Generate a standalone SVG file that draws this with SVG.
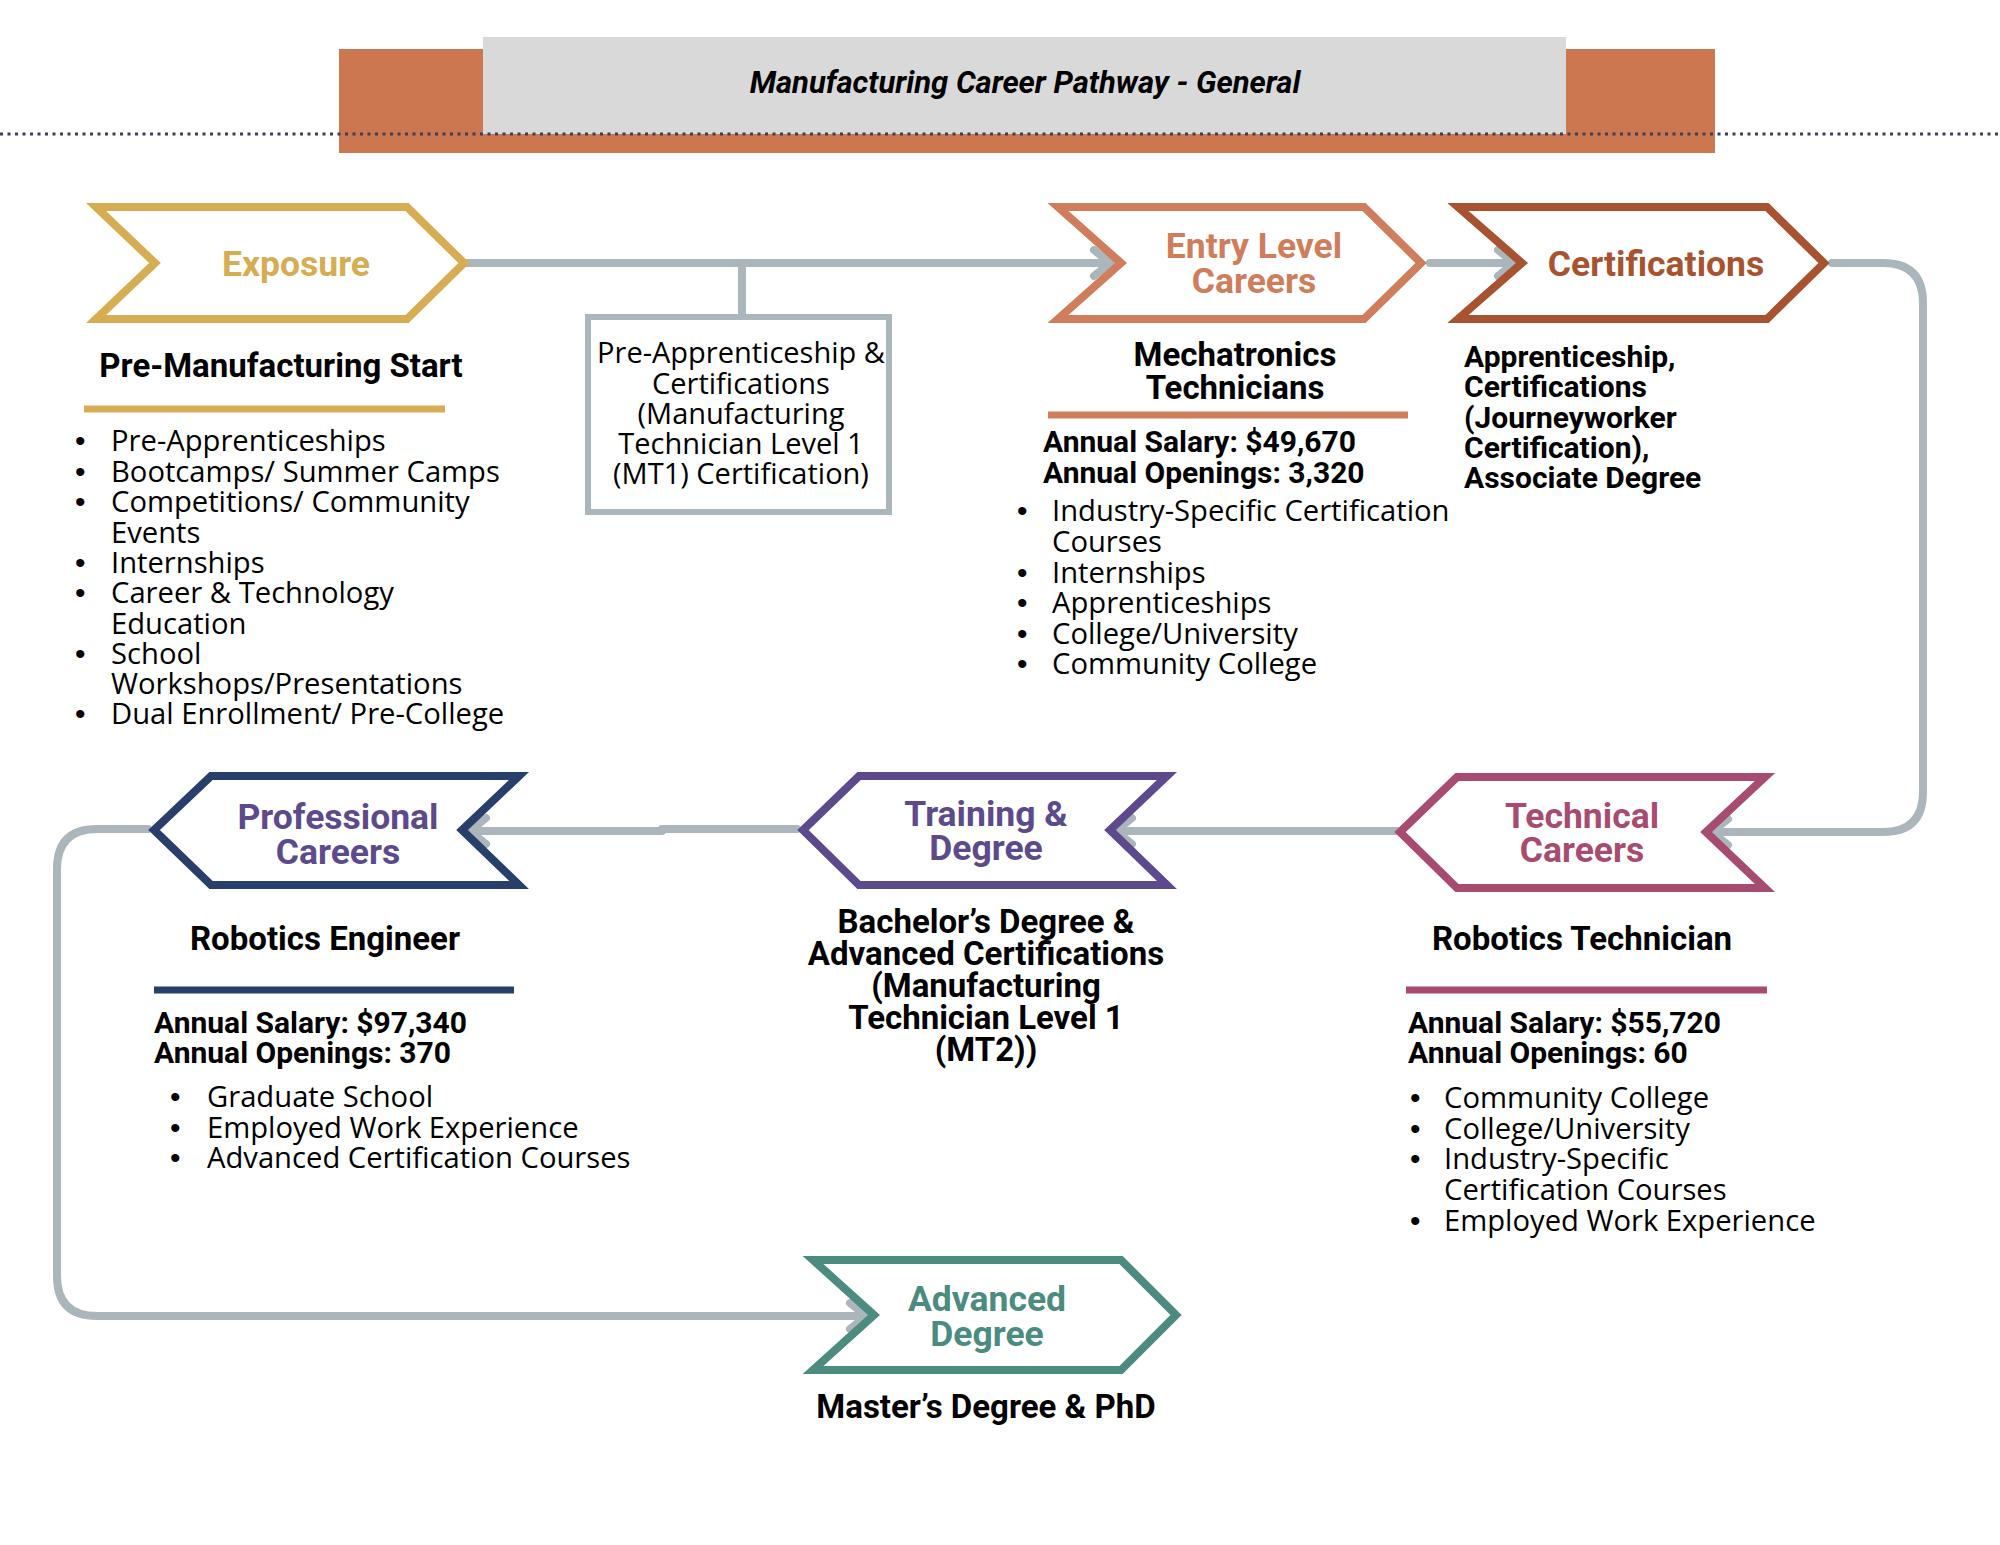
<svg xmlns="http://www.w3.org/2000/svg" width="2000" height="1545" viewBox="0 0 2000 1545">
<defs>
<style>
.bg{fill:#ffffff}
.chev{fill:#ffffff;stroke-width:8;stroke-linejoin:miter}
.lab{font-family:Roboto,"Liberation Sans",sans-serif;font-weight:700;font-size:35.5px;text-anchor:middle}
.head{font-family:Roboto,"Liberation Sans",sans-serif;font-weight:700;font-size:30px;fill:#000}
.big{font-size:33px}
.mid{text-anchor:middle}
.body{font-family:"Open Sans","Liberation Sans",sans-serif;font-size:29.2px;fill:#000}
.bul{font-family:"Liberation Sans",Arial,sans-serif;font-size:30px;fill:#000}
.conn{fill:none;stroke:#AAB5BC;stroke-width:8;stroke-linecap:round;stroke-linejoin:round}
.rule{stroke-width:7}
</style>
<marker id="arr" markerUnits="userSpaceOnUse" markerWidth="40" markerHeight="40" viewBox="-30 -20 40 40" refX="0" refY="0" orient="auto">
<path d="M-18,-13 L-2,0 L-18,13" fill="none" stroke="#AAB5BC" stroke-width="8" stroke-linecap="round" stroke-linejoin="round"/>
</marker>
</defs>
<rect class="bg" x="0" y="0" width="2000" height="1545"/>

<g id="title">
<rect x="339" y="49" width="1376" height="104" fill="#CD7751"/>
<rect x="483" y="37" width="1083" height="97" fill="#D9D9D9"/>
<line x1="0" y1="134" x2="2000" y2="134" stroke="#3B4058" stroke-width="3" stroke-dasharray="3 4.5"/>
<text x="1025" y="93" font-family="Roboto,'Liberation Sans',sans-serif" font-weight="700" font-style="italic" font-size="31" text-anchor="middle" fill="#000">Manufacturing Career Pathway - General</text>
</g>

<g id="connectors">
<path class="conn" d="M466 263 H1112" marker-end="url(#arr)"/>
<path class="conn" d="M742 263 V314"/>
<path class="conn" d="M1430 263 H1516" marker-end="url(#arr)"/>
<path class="conn" d="M1832 263 H1883 Q1923 263 1923 303 V792 Q1923 832 1883 832 H1710" marker-end="url(#arr)"/>
<path class="conn" d="M1397 831 H1114" marker-end="url(#arr)"/>
<path class="conn" d="M797 829 H662 V831 H468" marker-end="url(#arr)"/>
<path class="conn" d="M148 829 H97 Q57 829 57 869 V1276 Q57 1316 97 1316 H868" marker-end="url(#arr)"/>
</g>

<g id="exposure">
<polygon class="chev" stroke="#D6AD52" points="96,207 407,207 464,263 407,319 96,319 155,263"/>
<text class="lab" x="296" y="276" fill="#D6AD52">Exposure</text>
<text class="head big mid" x="281" y="377">Pre-Manufacturing Start</text>
<line class="rule" x1="84" y1="409" x2="445" y2="409" stroke="#D6AD52"/>
<text class="bul" x="75" y="451">•</text><text class="bul" x="75" y="482">•</text><text class="bul" x="75" y="512">•</text>
<text class="bul" x="75" y="573">•</text><text class="bul" x="75" y="603">•</text><text class="bul" x="75" y="664">•</text>
<text class="bul" x="75" y="724">•</text>
<g class="body">
<text x="111" y="451">Pre-Apprenticeships</text>
<text x="111" y="482">Bootcamps/ Summer Camps</text>
<text x="111" y="512">Competitions/ Community</text>
<text x="111" y="543">Events</text>
<text x="111" y="573">Internships</text>
<text x="111" y="603">Career &amp; Technology</text>
<text x="111" y="634">Education</text>
<text x="111" y="664">School</text>
<text x="111" y="694">Workshops/Presentations</text>
<text x="111" y="724">Dual Enrollment/ Pre-College</text>
</g>
</g>

<g id="pre-apprenticeship">
<rect x="588" y="317" width="301" height="195" fill="#fff" stroke="#AAB5BC" stroke-width="6"/>
<g class="body" text-anchor="middle" style="font-size:29px">
<text x="741" y="363">Pre-Apprenticeship &amp;</text>
<text x="741" y="394">Certifications</text>
<text x="741" y="424">(Manufacturing</text>
<text x="741" y="454">Technician Level 1</text>
<text x="741" y="484">(MT1) Certification)</text>
</g>
</g>

<g id="entry-level">
<polygon class="chev" stroke="#CF7D5B" points="1058,207 1364,207 1421,263 1364,319 1058,319 1121,263"/>
<text class="lab" x="1254" y="258" fill="#CF7D5B">Entry Level</text>
<text class="lab" x="1254" y="293" fill="#CF7D5B">Careers</text>
<text class="head big mid" x="1235" y="366">Mechatronics</text>
<text class="head big mid" x="1235" y="399">Technicians</text>
<line class="rule" x1="1048" y1="415" x2="1408" y2="415" stroke="#CF7D5B"/>
<text class="head" x="1043" y="452">Annual Salary: $49,670</text>
<text class="head" x="1043" y="483">Annual Openings: 3,320</text>
<text class="bul" x="1017" y="521">•</text><text class="bul" x="1017" y="583">•</text><text class="bul" x="1017" y="613">•</text>
<text class="bul" x="1017" y="644">•</text><text class="bul" x="1017" y="674">•</text>
<g class="body">
<text x="1052" y="521">Industry-Specific Certification</text>
<text x="1052" y="552">Courses</text>
<text x="1052" y="583">Internships</text>
<text x="1052" y="613">Apprenticeships</text>
<text x="1052" y="644">College/University</text>
<text x="1052" y="674">Community College</text>
</g>
</g>

<g id="certifications">
<polygon class="chev" stroke="#A8532F" points="1458,207 1767,207 1824,263 1767,319 1458,319 1522,263"/>
<text class="lab" x="1656" y="276" fill="#A8532F">Certifications</text>
<g class="head">
<text x="1464" y="367">Apprenticeship,</text>
<text x="1464" y="397">Certifications</text>
<text x="1464" y="428">(Journeyworker</text>
<text x="1464" y="458">Certification),</text>
<text x="1464" y="488">Associate Degree</text>
</g>
</g>

<g id="technical-careers">
<polygon class="chev" stroke="#A84B70" points="1765,777 1457,777 1400,832 1457,888 1765,888 1706,832"/>
<text class="lab" x="1582" y="828" fill="#A84B70">Technical</text>
<text class="lab" x="1582" y="862" fill="#A84B70">Careers</text>
<text class="head big mid" x="1582" y="950">Robotics Technician</text>
<line class="rule" x1="1406" y1="990" x2="1767" y2="990" stroke="#A84B70"/>
<text class="head" x="1408" y="1033">Annual Salary: $55,720</text>
<text class="head" x="1408" y="1063">Annual Openings: 60</text>
<text class="bul" x="1410" y="1108">•</text><text class="bul" x="1410" y="1139">•</text><text class="bul" x="1410" y="1169">•</text>
<text class="bul" x="1410" y="1231">•</text>
<g class="body">
<text x="1444" y="1108">Community College</text>
<text x="1444" y="1139">College/University</text>
<text x="1444" y="1169">Industry-Specific</text>
<text x="1444" y="1200">Certification Courses</text>
<text x="1444" y="1231">Employed Work Experience</text>
</g>
</g>

<g id="training-degree">
<polygon class="chev" stroke="#5C4A8C" points="1167,776 859,776 803,830 859,885 1167,885 1110,830"/>
<text class="lab" x="986" y="826" fill="#5C4A8C">Training &amp;</text>
<text class="lab" x="986" y="860" fill="#5C4A8C">Degree</text>
<g class="head big" text-anchor="middle">
<text x="986" y="933">Bachelor’s Degree &amp;</text>
<text x="986" y="965">Advanced Certifications</text>
<text x="986" y="997">(Manufacturing</text>
<text x="986" y="1029">Technician Level 1</text>
<text x="986" y="1061">(MT2))</text>
</g>
</g>

<g id="professional-careers">
<polygon class="chev" stroke="#283F6B" points="519,776 211,776 154,830 211,885 519,885 462,830"/>
<text class="lab" x="338" y="829" fill="#5C4A8C">Professional</text>
<text class="lab" x="338" y="864" fill="#5C4A8C">Careers</text>
<text class="head big mid" x="325" y="950">Robotics Engineer</text>
<line class="rule" x1="154" y1="990" x2="514" y2="990" stroke="#283F6B"/>
<text class="head" x="154" y="1033">Annual Salary: $97,340</text>
<text class="head" x="154" y="1063">Annual Openings: 370</text>
<text class="bul" x="170" y="1107">•</text><text class="bul" x="170" y="1138">•</text><text class="bul" x="170" y="1168">•</text>
<g class="body">
<text x="207" y="1107">Graduate School</text>
<text x="207" y="1138">Employed Work Experience</text>
<text x="207" y="1168">Advanced Certification Courses</text>
</g>
</g>

<g id="advanced-degree">
<polygon class="chev" stroke="#4B8B80" points="813,1260 1121,1260 1176,1315 1121,1370 813,1370 874,1315"/>
<text class="lab" x="987" y="1311" fill="#4B8B80">Advanced</text>
<text class="lab" x="987" y="1346" fill="#4B8B80">Degree</text>
<text class="head big mid" x="986" y="1418">Master’s Degree &amp; PhD</text>
</g>
</svg>
